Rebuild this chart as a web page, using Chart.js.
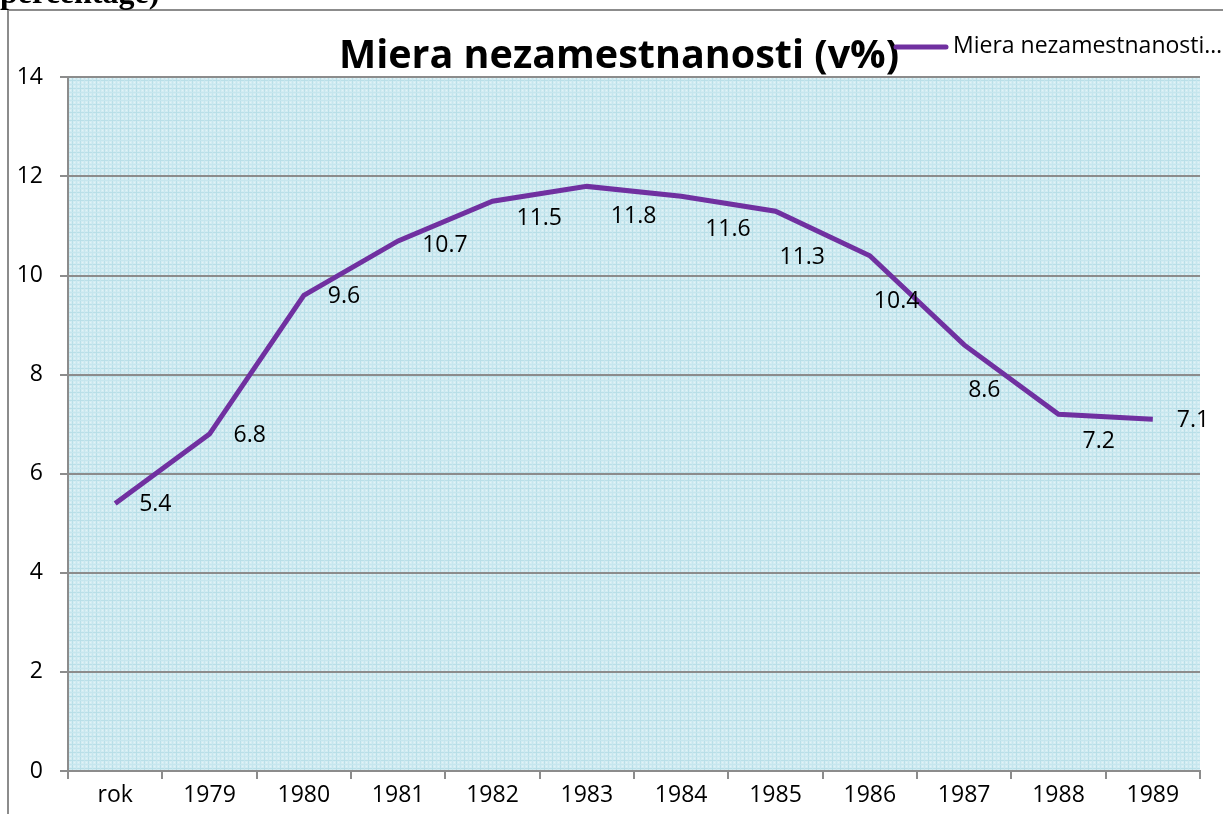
<!DOCTYPE html>
<html>
<head>
<meta charset="utf-8">
<script src="https://cdn.jsdelivr.net/npm/chart.js@4/dist/chart.umd.min.js"></script>
<style>
html,body{margin:0;padding:0;background:#fff;overflow:hidden}
#wrap{position:relative;width:1223px;height:814px}
</style>
</head>
<body>
<div id="wrap"><canvas id="c" width="1223" height="814"></canvas></div>
<script>
const categories = ['rok','1979','1980','1981','1982','1983','1984','1985','1986','1987','1988','1989'];
const unemployment = [5.4, 6.8, 9.6, 10.7, 11.5, 11.8, 11.6, 11.3, 10.4, 8.6, 7.2, 7.1];
const yTicks = [0, 2, 4, 6, 8, 10, 12, 14];
const seriesName = 'Miera nezamestnanosti (v%)';
const chartTitle = 'Miera nezamestnanosti (v%)';
const legendText = 'Miera nezamestnanosti…';
const fragmentText = 'percentage)';

const FONT = '"Open Sans", "Liberation Sans", sans-serif';
const LINE_COLOR = '#7030a0';
const GRID_COLOR = '#8c8c8c';

function makePattern() {
  const p = document.createElement('canvas');
  p.width = 8; p.height = 8;
  const g = p.getContext('2d');
  g.fillStyle = '#d3ecf2';
  g.fillRect(0, 0, 8, 8);
  g.fillStyle = '#b9dfe8';
  g.fillRect(0, 0, 8, 1);
  g.fillRect(0, 0, 1, 8);
  g.fillStyle = '#c6e6ee';
  g.fillRect(4, 0, 1, 8);
  g.fillRect(0, 4, 8, 1);
  g.fillStyle = '#e2f3f7';
  g.fillRect(2, 2, 1, 1); g.fillRect(6, 6, 1, 1); g.fillRect(2, 6, 1, 1); g.fillRect(6, 2, 1, 1);
  return p;
}

const decorPlugin = {
  id: 'decor',
  afterLayout(chart) {
    // shift the title's centring box to match the reference placement
    if (chart.titleBlock) { chart.titleBlock.left = 38; chart.titleBlock.right = 1200; }
  },
  beforeDraw(chart) {
    const ctx = chart.ctx;
    const a = chart.chartArea;
    ctx.save();
    // outer frame
    ctx.strokeStyle = '#8c8c8c';
    ctx.lineWidth = 2;
    ctx.beginPath();
    ctx.moveTo(8, 830);
    ctx.lineTo(8, 10);
    ctx.lineTo(1240, 10);
    ctx.stroke();
    // cut-off text fragment above the frame
    ctx.fillStyle = '#000';
    ctx.font = 'bold 32px "Liberation Serif", serif';
    ctx.textBaseline = 'alphabetic';
    ctx.textAlign = 'left';
    ctx.fillText(fragmentText, 0, 3);
    // plot area background
    const pat = ctx.createPattern(makePattern(), 'repeat');
    ctx.fillStyle = pat;
    ctx.fillRect(a.left, a.top, a.right - a.left, a.bottom - a.top);
    ctx.restore();
  },
  afterDraw(chart) {
    const ctx = chart.ctx;
    ctx.save();
    // legend
    ctx.strokeStyle = LINE_COLOR;
    ctx.lineWidth = 5;
    ctx.lineCap = 'round';
    ctx.beginPath();
    ctx.moveTo(896, 47);
    ctx.lineTo(946, 47);
    ctx.stroke();
    ctx.fillStyle = '#000';
    ctx.font = '23px ' + FONT;
    ctx.textBaseline = 'middle';
    ctx.textAlign = 'left';
    ctx.fillText(legendText, 953, 46);
    // data labels (placed right of the point, nudged below the line when it would overlap)
    const meta = chart.getDatasetMeta(0);
    const data = chart.data.datasets[0].data;
    ctx.font = '23px ' + FONT;
    ctx.textAlign = 'left';
    ctx.textBaseline = 'middle';
    meta.data.forEach((pt, i) => {
      let dy = 0, dx = 24;
      const next = meta.data[i + 1];
      if (next) {
        const slope = (next.y - pt.y) / (next.x - pt.x);
        dy = Math.min(45, Math.max(0, slope * 49 + 24));
        if (slope > 0.3) dx = 4;
      }
      ctx.fillText(String(data[i]), pt.x + dx, pt.y + dy + 1);
    });
    ctx.restore();
  }
};

new Chart(document.getElementById('c'), {
  type: 'line',
  data: {
    labels: categories,
    datasets: [{
      label: seriesName,
      data: unemployment,
      borderColor: LINE_COLOR,
      backgroundColor: LINE_COLOR,
      borderWidth: 5,
      pointRadius: 0,
      tension: 0,
      fill: false
    }]
  },
  options: {
    responsive: false,
    animation: false,
    layout: { padding: { left: 0, right: 23, top: 0, bottom: 0 } },
    plugins: {
      legend: { display: false },
      tooltip: { enabled: false },
      title: {
        display: true,
        text: chartTitle,
        color: '#000',
        font: { family: FONT, size: 39.5, weight: 'bold', lineHeight: 1.2 },
        padding: { top: 33, bottom: -3 }
      }
    },
    scales: {
      x: {
        offset: true,
        grid: {
          offset: true,
          drawOnChartArea: false,
          drawTicks: true,
          tickLength: 8,
          color: GRID_COLOR,
          lineWidth: 2
        },
        border: { color: GRID_COLOR, width: 2 },
        ticks: { color: '#000', font: { family: FONT, size: 23 }, padding: 3, maxRotation: 0, autoSkip: false },
        afterFit(s) { s.height = 43; }
      },
      y: {
        min: 0, max: 14,
        afterBuildTicks(s) { s.ticks = yTicks.map(v => ({ value: v })); },
        grid: { color: GRID_COLOR, lineWidth: 2, tickLength: 8, drawTicks: true },
        border: { color: GRID_COLOR, width: 2 },
        ticks: { color: '#000', font: { family: FONT, size: 23 }, padding: 17 },
        afterFit(s) { s.width = 68; }
      }
    }
  },
  plugins: [decorPlugin]
});
</script>
</body>
</html>
